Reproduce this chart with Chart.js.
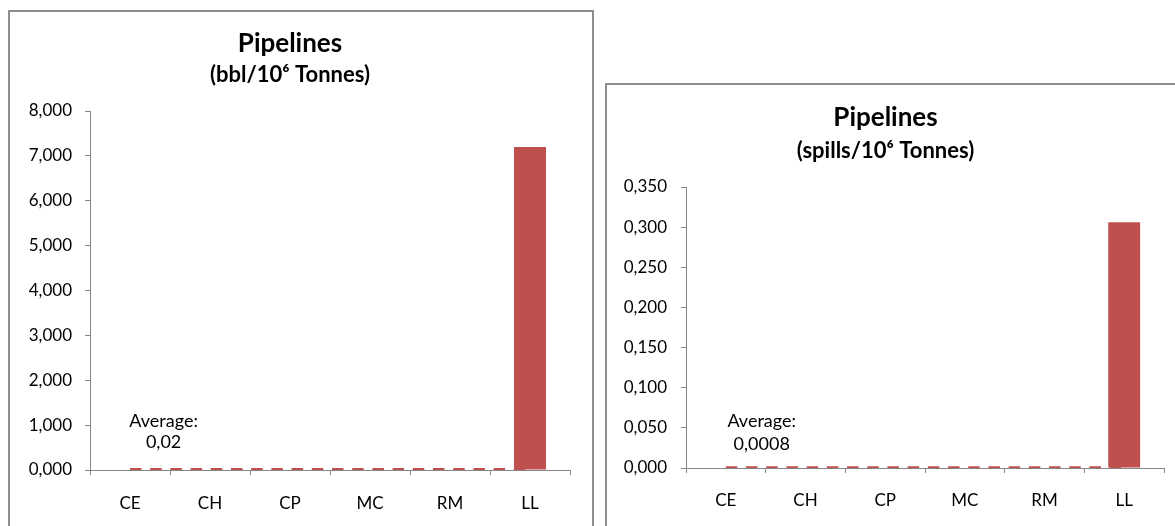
<!DOCTYPE html>
<html><head><meta charset="utf-8">
<script src="https://cdn.jsdelivr.net/npm/chart.js@4.4.0/dist/chart.umd.min.js"></script>
<style>
body{margin:0;background:#fff;width:1175px;height:526px;overflow:hidden;position:relative}
.box{position:absolute;border:2px solid #8e8e8e;box-sizing:border-box;background:#fff}
canvas{position:absolute}
</style></head><body>
<div class="box" style="left:8px;top:10px;width:586px;height:540px"></div>
<div class="box" style="left:605px;top:83px;width:590px;height:470px"></div>
<canvas id="c1" width="582" height="514" style="left:10px;top:12px"></canvas>
<canvas id="c2" width="568" height="441" style="left:607px;top:85px"></canvas>
<script>
// ---- data ----
const categories = ['CE', 'CH', 'CP', 'MC', 'RM', 'LL'];

const bblValues = [0, 0, 0, 0, 0, 7.2];
const bblAverage = [0.02, 0.02, 0.02, 0.02, 0.02, 0.02];
const bblTickLabels = ['0,000', '1,000', '2,000', '3,000', '4,000', '5,000', '6,000', '7,000', '8,000'];
const bblAvgText = ['Average:', '0,02'];

const spillValues = [0, 0, 0, 0, 0, 0.306];
const spillAverage = [0.0008, 0.0008, 0.0008, 0.0008, 0.0008, 0.0008];
const spillTickLabels = ['0,000', '0,050', '0,100', '0,150', '0,200', '0,250', '0,300', '0,350'];
const spillAvgText = ['Average:', '0,0008'];

const titleText = 'Pipelines';
const leftSubtitle = '(bbl/10\u2076 Tonnes)';
const rightSubtitle = '(spills/10\u2076 Tonnes)';

// ---- styling ----
const RED = '#C0504D';
const AXIS = '#868686';
const FONT = 'Lato';

const avgLabelPlugin = {
  id: 'avgLabel',
  afterDatasetsDraw(chart, args, opts) {
    const ctx = chart.ctx, x = chart.scales.x, y = chart.scales.y;
    const cw = x.getPixelForValue(1) - x.getPixelForValue(0);
    const cx = x.getPixelForValue(0) + opts.dx * cw;
    const ly = y.getPixelForValue(opts.value);
    ctx.save();
    ctx.font = '18px ' + FONT;
    ctx.fillStyle = '#000';
    ctx.textAlign = 'center';
    ctx.textBaseline = 'middle';
    ctx.fillText(opts.lines[0], cx, ly - opts.dy[0]);
    ctx.fillText(opts.lines[1], cx, ly - opts.dy[1]);
    ctx.restore();
  }
};

function makeChart(id, o) {
  return new Chart(document.getElementById(id), {
    data: {
      labels: categories,
      datasets: [
        { type: 'bar', data: o.values, backgroundColor: RED, borderWidth: 0,
          categoryPercentage: 1, barPercentage: 0.4 },
        { type: 'line', data: o.avg, borderColor: RED, borderWidth: 2.3,
          borderDash: [11.5, 8.7], borderCapStyle: 'butt', pointRadius: 0, fill: false, tension: 0 }
      ]
    },
    options: {
      responsive: false,
      animation: false,
      devicePixelRatio: 1,
      layout: { padding: { left: 0, right: o.padRight, top: 0, bottom: 0 } },
      plugins: {
        legend: { display: false },
        tooltip: { enabled: false },
        title: { display: true, text: titleText, color: '#000',
          font: { family: FONT, size: 26, weight: 'bold' },
          padding: { top: o.titleTop, bottom: 0 } },
        subtitle: { display: true, text: o.subtitle, color: '#000',
          font: { family: FONT, size: 22, weight: 'bold' },
          padding: { top: o.subTop, bottom: o.subBottom } },
        avgLabel: { lines: o.avgText, value: o.avg[0], dx: o.labelDx, dy: o.labelDy }
      },
      scales: {
        x: {
          type: 'category',
          grid: { display: true, drawOnChartArea: false, drawTicks: true, tickLength: 5, color: AXIS, offset: true },
          border: { display: true, color: AXIS, width: 1 },
          ticks: { color: '#000', font: { family: FONT, size: 17 }, padding: o.xPad, maxRotation: 0 },
          afterFit(s) { s.height = o.xHeight; }
        },
        y: {
          min: 0, max: o.max,
          ticks: { stepSize: o.step, color: '#000', font: { family: FONT, size: 17 }, padding: o.yPad,
            callback: (v, i) => o.tickLabels[i] },
          grid: { display: true, drawOnChartArea: false, drawTicks: true, tickLength: 5, color: AXIS },
          border: { display: true, color: AXIS, width: 1 },
          afterFit(s) { s.width = o.yWidth; }
        }
      }
    },
    plugins: [avgLabelPlugin]
  });
}

makeChart('c1', {
  values: bblValues, avg: bblAverage, tickLabels: bblTickLabels, avgText: bblAvgText,
  subtitle: leftSubtitle, max: 8, step: 1,
  padRight: 22, titleTop: 16.4, subTop: 1.7, subBottom: 23.3,
  xHeight: 56, xPad: 18, yPad: 13, yWidth: 80,
  labelDx: 0.42, labelDy: [48, 27]
});

makeChart('c2', {
  values: spillValues, avg: spillAverage, tickLabels: spillTickLabels, avgText: spillAvgText,
  subtitle: rightSubtitle, max: 0.35, step: 0.05,
  padRight: 11, titleTop: 17.4, subTop: 4.2, subBottom: 22.8,
  xHeight: 58, xPad: 17, yPad: 14, yWidth: 79,
  labelDx: 0.45, labelDy: [46, 23]
});
</script>
</body></html>
